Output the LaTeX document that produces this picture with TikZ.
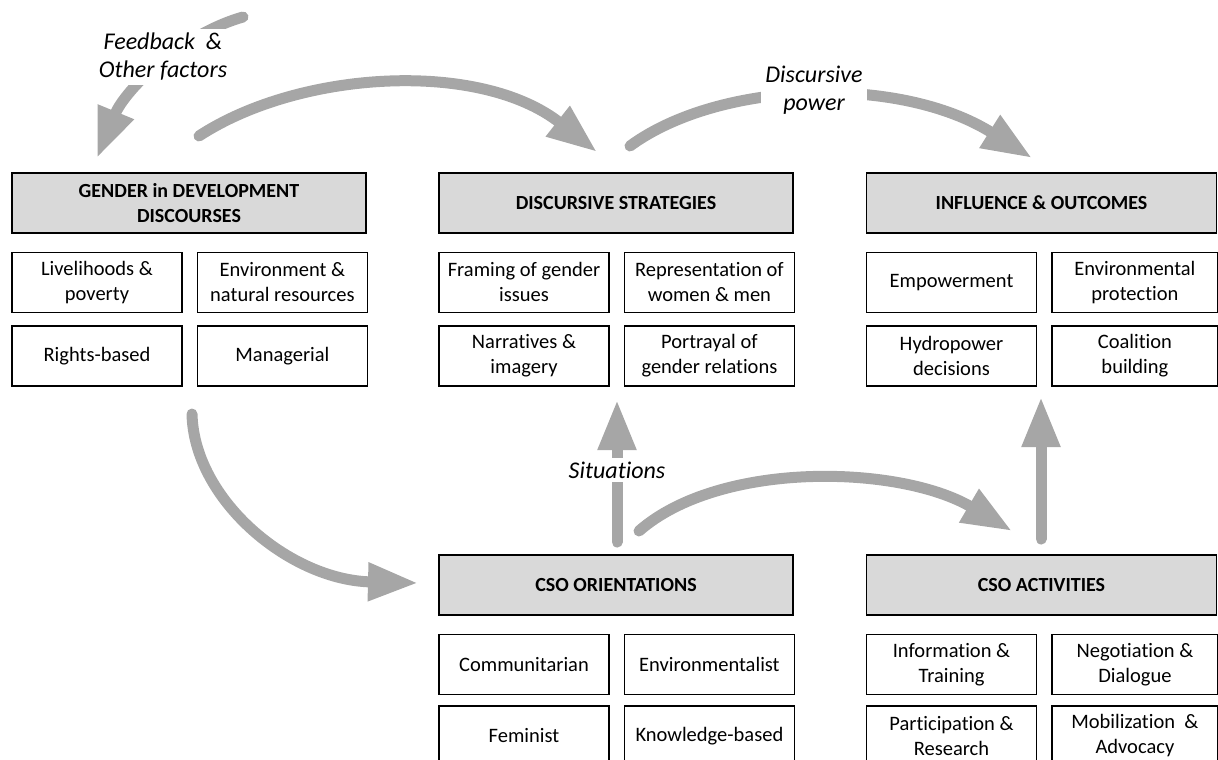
\documentclass[tikz,border=0pt]{standalone}
\usepackage{fontspec}
\setmainfont{Carlito}[Ligatures=NoCommon]
\usepackage{tikz}
\usetikzlibrary{arrows.meta, positioning}
\definecolor{headgray}{HTML}{D9D9D9}
\definecolor{flowgray}{HTML}{A6A6A6}
\tikzset{
  head/.style={rectangle, draw, line width=1.4pt, fill=headgray, minimum width=354pt, minimum height=60pt, text centered, align=center, font=\fontsize{20}{25}\selectfont\bfseries},
  item/.style={rectangle, draw, line width=1.4pt, fill=white, minimum width=170pt, minimum height=60pt, text centered, align=center, inner sep=2pt},
  flow/.style={-{Triangle[length=50pt, width=36pt]}, line width=11pt, draw=flowgray, line cap=round},
  lbl/.style={fill=white, inner sep=4pt, align=center, font=\fontsize{24}{28}\selectfont\itshape}
}

\begin{document}
\begin{tikzpicture}[x=1pt, y=-1pt, every node/.style={font=\fontsize{20.5}{25}\selectfont}]
  \useasboundingbox (0,0) rectangle (1218,760);
  % Headers
  \node[head] (gid) at (189,203) {GENDER in DEVELOPMENT\\DISCOURSES};
  \node[head] (ds) at (616,203) {DISCURSIVE STRATEGIES};
  \node[head, minimum width=350pt] (io) at (1041.5,203) {INFLUENCE \& OUTCOMES};
  \node[head] (cso) at (616,585) {CSO ORIENTATIONS};
  \node[head, minimum width=350pt] (act) at (1041.5,585) {CSO ACTIVITIES};

  % Gender in development discourses
  \node[item, below=18pt of gid.south west, anchor=north west] (gid1) {Livelihoods \&\\poverty};
  \node[item, right=14pt of gid1] (gid2) {Environment \&\\natural resources};
  \node[item, below=12pt of gid1] (gid3) {Rights-based};
  \node[item, below=12pt of gid2] (gid4) {Managerial};

  % Discursive strategies
  \node[item, below=18pt of ds.south west, anchor=north west] (ds1) {Framing of gender\\issues};
  \node[item, right=14pt of ds1] (ds2) {Representation of\\women \& men};
  \node[item, below=12pt of ds1] (ds3) {Narratives \&\\imagery};
  \node[item, below=12pt of ds2] (ds4) {Portrayal of\\gender relations};

  % Influence & outcomes
  \node[item, below=18pt of io.south west, anchor=north west] (io1) {Empowerment};
  \node[item, right=14pt of io1, minimum width=166pt] (io2) {Environmental\\protection};
  \node[item, below=12pt of io1] (io3) {Hydropower\\decisions};
  \node[item, below=12pt of io2, minimum width=166pt] (io4) {Coalition\\building};

  % CSO orientations
  \node[item, below=18pt of cso.south west, anchor=north west] (cso1) {Communitarian};
  \node[item, right=14pt of cso1] (cso2) {Environmentalist};
  \node[item, below=10pt of cso1] (cso3) {Feminist};
  \node[item, below=10pt of cso2] (cso4) {Knowledge-based};

  % CSO activities
  \node[item, below=18pt of act.south west, anchor=north west] (act1) {Information \&\\Training};
  \node[item, right=14pt of act1, minimum width=166pt] (act2) {Negotiation \&\\Dialogue};
  \node[item, below=10pt of act1] (act3) {Participation \&\\Research};
  \node[item, below=10pt of act2, minimum width=166pt] (act4) {Mobilization~~\&\\Advocacy};

  % Arrow ends
  \coordinate (fbS) at (243,17);
  \coordinate (fbE) at (97,158);
  \coordinate (gdS) at (199,136);
  \coordinate (gdE) at (597,152);
  \coordinate (dpS) at (630,146);
  \coordinate (dpE) at (1032,158);
  \coordinate (gcS) at (192,414);
  \coordinate (gcE) at (418,583);
  \coordinate (stS) at (617,542);
  \coordinate (stE) at (617,400);
  \coordinate (caS) at (639,531);
  \coordinate (caE) at (1012,531);
  \coordinate (aoS) at (1041,539);
  \coordinate (aoE) at (1041,397);

  % Connections
  \draw[flow] (fbS) .. controls (180,35) and (125,90) .. (fbE);
  \draw[flow] (gdS) .. controls (300,70) and (480,60) .. (gdE);
  \draw[flow] (dpS) .. controls (720,80) and (900,75) .. (dpE);
  \draw[flow] (gcS) .. controls (194,500) and (290,580) .. (gcE);
  \draw[flow] (stS) -- (stE);
  \draw[flow] (caS) .. controls (720,460) and (900,465) .. (caE);
  \draw[flow] (aoS) -- (aoE);

  % Labels
  \node[lbl] (fb) at (163,57) {Feedback~~\&\\Other factors};
  \node[lbl] (dp) at (814,90) {Discursive\\power};
  \node[lbl] (st) at (617,470) {Situations};
\end{tikzpicture}
\end{document}
